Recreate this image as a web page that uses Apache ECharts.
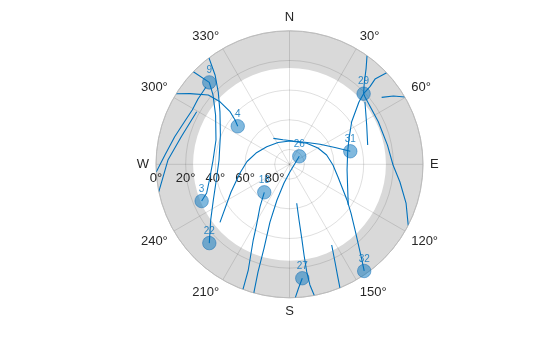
<!DOCTYPE html>
<html>
<head>
<meta charset="utf-8">
<script src="https://cdn.jsdelivr.net/npm/echarts@6/dist/echarts.min.js"></script>
<style>
html,body{margin:0;padding:0;background:#fff;}
#chart{width:560px;height:337px;}
</style>
</head>
<body>
<div id="chart"></div>
<script>
// ---- Data (azimuth in degrees clockwise from North, elevation in degrees) ----
const satIds = [9, 4, 29, 31, 26, 3, 18, 22, 27, 32];
const satAz  = [315.6, 306.3, 46.4, 77.9, 50.8, 247.3, 222.0, 225.5, 173.6, 145.0];
const satEl  = [12.7, 46.7, 21.0, 48.1, 81.5, 25.8, 64.6, 14.2, 12.7, 2.2];

const maskElevation = 25;
const elevationTicks = [0, 20, 40, 60, 80];

// satellite tracks: [azimuth, elevation]
const track4  = [[301.9,0],[305.4,7.7],[310.5,18.0],[312.0,27.0],[311.5,36.5],[309.1,42.7],[306.3,46.7]];
const track3  = [[313.9,0],[315.6,12.7],[312.2,20.4],[303.7,30.1],[288.3,37.8],[273.2,38.4],[258.9,35.0],[250.9,30.9],[247.3,25.8]];
const track22 = [[322.9,0],[320.2,11.6],[315.4,21.6],[307.0,31.3],[293.0,39.4],[273.5,42.4],[260.1,40.2],[244.9,33.3],[234.7,24.9],[225.5,14.2]];
const track9  = [[312.8,13.3],[305.5,14.2],[299.2,14.9],[292.5,13.7],[283.5,10.4],[274.3,5.8],[266.7,0]];
const trackB  = [[299.5,18.1],[284.3,14.7],[272.0,8.0],[258.2,0]];
const track29 = [[35.5,0],[38.6,7.2],[42.7,15.7],[46.4,21.0],[48.3,21.8],[64.4,23.6],[78.9,22.7],[90.4,20.2],[99.1,14.6],[108.4,7.2],[117.2,0]];
const trackC  = [[46.7,0],[45.1,8.6],[46.0,14.6],[46.4,21.0],[48.1,27.1],[55.6,39.2],[66.4,46.2],[77.4,49.8],[95.7,51.0],[113.8,47.1],[124.7,41.8]];
const trackD  = [[50.3,23.9],[63.0,31.6],[76.1,35.7]];
const trackE  = [[54.0,13.2],[56.7,6.2],[59.7,0]];
const track31 = [[328.1,69.4],[345.2,72.9],[9.3,74.1],[38.8,71.1],[56.7,65.4],[69.7,57.3],[77.9,48.1]];
const track32 = [[230.1,28.9],[244.7,46.4],[260.0,56.1],[273.8,61.3],[288.6,66.2],[307.7,70.6],[332.2,73.4],[1.2,74.3],[39.3,71.7],[60.2,67.9],[76.0,64.2],[90.9,60.7],[104.7,56.2],[121.8,44.4],[128.4,37.1],[135.7,26.3],[142.5,10.3],[145.0,2.2]];
const track26 = [[50.8,81.5],[176.1,85.0],[196.4,76.9],[199.3,64.5],[198.7,48.9],[196.9,31.0],[196.3,14.4],[195.5,0]];
const track18 = [[222.0,64.6],[214.8,55.2],[208.5,43.4],[205.6,33.4],[201.3,13.5],[200.4,0]];
const track27 = [[173.6,12.7],[175.8,6.4],[177.5,0]];
const trackF  = [[169.5,63.3],[170.3,51.9],[170.6,39.4],[170.9,28.1],[170.9,16.7],[170.4,7.5],[169.3,0]];
const trackG  = [[152.4,28.6],[155.0,17.5],[156.9,6.7],[157.8,0]];

const tracks = [track4, track3, track22, track9, trackB, track29, trackC, trackD, trackE, track31, track32, track26, track18, track27, trackF, trackG];

// ---- Chart ----
const BLUE = '#0072BD';
const TEXT = '#262626';
const FONT = '"Liberation Sans", Arial, Helvetica, sans-serif';
const CENTER = [289.5, 164.3];
const RADIUS = 133.5;

// angle axis value 0 sits at West (startAngle 180), increasing clockwise
function toAngle(az) { return ((az + 90) % 360 + 360) % 360; }
function angleLabel(v) {
  if (v >= 360) return '';
  const az = Math.round((v + 270) % 360);
  const names = {0: 'N', 90: 'E', 180: 'S', 270: 'W'};
  return names[az] !== undefined ? names[az] : az + '°';
}

const chart = echarts.init(document.getElementById('chart'), null, {renderer: 'canvas'});

const series = tracks.map(t => ({
  type: 'line',
  coordinateSystem: 'polar',
  polarIndex: 1,
  data: t.map(p => [p[1], toAngle(p[0])]),
  symbol: 'none',
  smooth: false,
  silent: true,
  z: 3,
  lineStyle: {color: BLUE, width: 1.1}
}));

series.push({
  type: 'scatter',
  coordinateSystem: 'polar',
  polarIndex: 1,
  symbol: 'circle',
  symbolSize: 13.5,
  z: 4,
  itemStyle: {color: 'rgba(0,114,189,0.62)', borderColor: 'rgba(0,100,175,0.7)', borderWidth: 0.8},
  label: {
    show: true,
    position: 'top',
    distance: 0,
    formatter: p => p.name,
    color: BLUE,
    fontSize: 10,
    fontFamily: FONT
  },
  data: satIds.map((id, i) => ({name: String(id), value: [satEl[i], toAngle(satAz[i])]}))
});

chart.setOption({
  animation: false,
  backgroundColor: '#ffffff',
  polar: [
    {center: CENTER, radius: RADIUS},
    {center: CENTER, radius: RADIUS}
  ],
  angleAxis: [
    {
      polarIndex: 0, type: 'value', min: 0, max: 360, interval: 90, startAngle: 180, clockwise: true,
      z: 0, axisLine: {show: false}, axisTick: {show: false}, axisLabel: {show: false}, splitLine: {show: false}
    },
    {
      polarIndex: 1, type: 'value', min: 0, max: 360, interval: 30, startAngle: 180, clockwise: true,
      z: 1,
      axisLine: {show: true, lineStyle: {color: '#bcbcbc', width: 1}},
      axisTick: {show: false},
      axisLabel: {show: true, margin: 7, color: TEXT, fontSize: 13, fontFamily: FONT, formatter: angleLabel},
      splitLine: {show: true, lineStyle: {color: 'rgba(38,38,38,0.15)', width: 1}}
    }
  ],
  radiusAxis: [
    {
      polarIndex: 0, type: 'value', min: 0, max: 90, interval: maskElevation, inverse: true,
      z: 0,
      axisLine: {show: false}, axisTick: {show: false}, axisLabel: {show: false}, splitLine: {show: false},
      splitArea: {show: true, areaStyle: {color: ['#d9d9d9', 'rgba(255,255,255,0)', 'rgba(255,255,255,0)', 'rgba(255,255,255,0)']}}
    },
    {
      polarIndex: 1, type: 'value', min: 0, max: 90, interval: 20, inverse: true,
      z: 1,
      axisLine: {show: false}, axisTick: {show: false},
      axisLabel: {
        show: true, margin: 8, color: TEXT, fontSize: 13, fontFamily: FONT,
        formatter: v => (elevationTicks.indexOf(v) >= 0 ? v + '°' : '')
      },
      splitLine: {show: true, lineStyle: {color: 'rgba(38,38,38,0.15)', width: 1}}
    }
  ],
  series: series
});
</script>
</body>
</html>
